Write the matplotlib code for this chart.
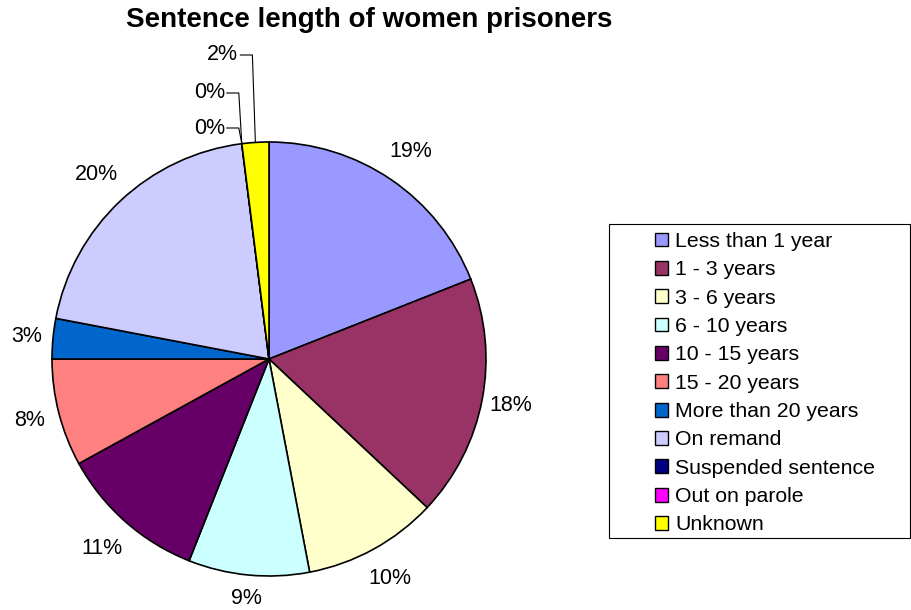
import matplotlib
matplotlib.use("Agg")

import numpy as np
import matplotlib.pyplot as plt
from matplotlib.patches import Rectangle

# Sentence length of women prisoners (percent)
categories = ["Less than 1 year", "1 - 3 years", "3 - 6 years", "6 - 10 years",
              "10 - 15 years", "15 - 20 years", "More than 20 years", "On remand",
              "Suspended sentence", "Out on parole", "Unknown"]
shares = [19, 18, 10, 9, 11, 8, 3, 20, 0, 0, 2]
colours = ["#9999FF", "#993366", "#FFFFCC", "#CCFFFF", "#660066", "#FF8080",
           "#0066CC", "#CCCCFF", "#000080", "#FF00FF", "#FFFF00"]

plt.rcParams["font.family"] = ["Liberation Sans", "DejaVu Sans"]

W, H = 911, 610
fig = plt.figure(figsize=(W / 100, H / 100), dpi=100)
ax = fig.add_axes([0, 0, 1, 1])

# pie geometry in pixels (y up)
cx, cy, r = 269, H - 359, 217

wedges, _ = ax.pie(shares, colors=colours, startangle=90, counterclock=False,
                   center=(cx, cy), radius=r, frame=True,
                   wedgeprops=dict(edgecolor="black", linewidth=1.2))
ax.set_xlim(0, W)
ax.set_ylim(0, H)
ax.set_aspect("equal")
ax.axis("off")

label_size = 15.5

# Data labels just outside the rim (diagonal ones sit a bit further out)
small = []
for w, v in zip(wedges, shares):
    mid = np.deg2rad((w.theta1 + w.theta2) / 2)
    if v < 2.5:
        small.append((w, v, mid))
        continue
    d = r + 21.5 + 12 * abs(np.sin(2 * mid)) + 3 * abs(np.cos(mid))
    ax.text(cx + d * np.cos(mid), cy + d * np.sin(mid), f"{v}%",
            ha="center", va="center", fontsize=label_size)

# labels with leader lines for the tiny slices, stacked above the pie
small = sorted(small, key=lambda s: -s[2])
stack_y = [H - 128, H - 93, H - 55]
for (w, v, mid), ty in zip(small, stack_y):
    px, py = cx + r * np.cos(mid), cy + r * np.sin(mid)
    tx = px - 17
    ax.text(tx, ty, f"{v}%", ha="right", va="center", fontsize=label_size)
    ax.plot([tx + 2, px - 3, px], [ty, ty, py], color="black", lw=0.8)

ax.text(369, H - 20, "Sentence length of women prisoners", ha="center",
        va="center", fontsize=20, fontweight="bold")

# legend box
ax.add_patch(Rectangle((609, H - 538), 301, 314, facecolor="white",
                       edgecolor="black", linewidth=0.8))
leg = fig.legend(wedges, categories, loc="upper left",
                 bbox_to_anchor=(655 / W, 1 - 232 / H),
                 fontsize=15.3, frameon=False,
                 handlelength=0.62, handleheight=0.62, handletextpad=0.33,
                 labelspacing=0.44, borderpad=0, borderaxespad=0)
for h in leg.legend_handles:
    h.set_linewidth(1.0)

fig.savefig("out.png", dpi=100)
